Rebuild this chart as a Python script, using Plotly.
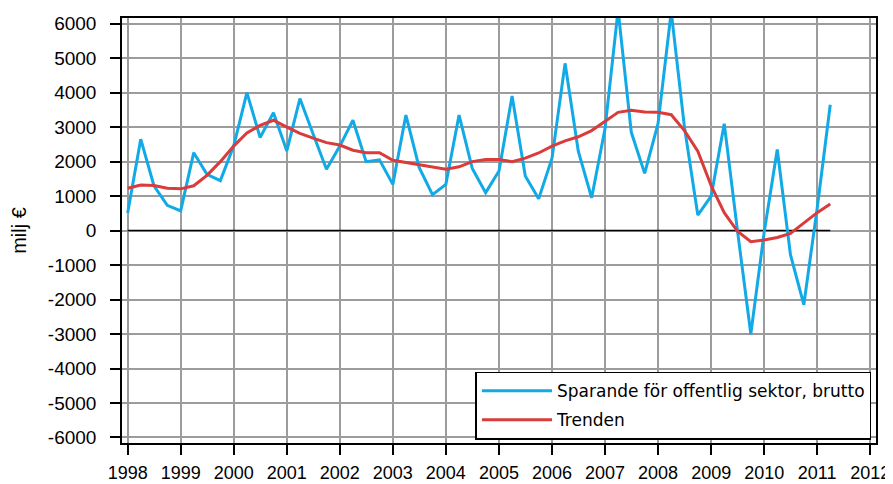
import pandas as pd
import plotly.graph_objects as go

# Quarterly data, 1998Q1 - 2011Q2 (milj €)
quarters = pd.date_range("1998-01-01", "2011-04-01", freq="QS")

sparande = [
    510, 2650, 1300, 730,
    570, 2260, 1630, 1450,
    2450, 4000, 2700, 3420,
    2310, 3830, 2800, 1780,
    2450, 3200, 2000, 2050,
    1340, 3350, 1830, 1040,
    1340, 3350, 1800, 1100,
    1730, 3900, 1580, 920,
    2100, 4850, 2300, 950,
    2950, 6400, 2850, 1660,
    3100, 6350, 3000, 450,
    1000, 3100, 0, -3000,
    -50, 2350, -700, -2150,
    650, 3650,
]

trenden = [
    1230, 1320, 1310, 1230,
    1210, 1300, 1600, 2000,
    2450, 2830, 3050, 3200,
    3000, 2820, 2680, 2550,
    2480, 2330, 2260, 2260,
    2040, 1980, 1910, 1840,
    1780, 1850, 2000, 2060,
    2060, 2000, 2100, 2250,
    2450, 2600, 2720, 2900,
    3180, 3430, 3490, 3440,
    3430, 3360, 2900, 2300,
    1300, 520, -20, -320,
    -270, -200, -80, 230,
    520, 770,
]

y_ticks = list(range(-6000, 6001, 1000))
y_labels = [str(v) for v in y_ticks]

fig = go.Figure()

# zero line over the data period
fig.add_trace(go.Scatter(
    x=[quarters[0], quarters[-1]], y=[0, 0], mode="lines",
    line=dict(color="black", width=1.5), showlegend=False, hoverinfo="skip",
))

fig.add_trace(go.Scatter(
    x=quarters, y=sparande, mode="lines",
    name="Sparande för offentlig sektor, brutto",
    line=dict(color="#12aae6", width=3),
    legendgroup="a",
))

fig.add_trace(go.Scatter(
    x=quarters, y=trenden, mode="lines",
    name="Trenden",
    line=dict(color="#da3b3b", width=3),
    legendgroup="b",
))

# page has an 8px body margin, so the figure is a little smaller than the window
fig.update_layout(
    width=885, height=476,
    margin=dict(l=114, r=17, t=10, b=41),
    paper_bgcolor="white", plot_bgcolor="white",
    font=dict(family="Liberation Sans, Arial, sans-serif", size=19, color="black"),
    legend=dict(
        x=0.994, y=0.008, xanchor="right", yanchor="bottom",
        bgcolor="white", bordercolor="black", borderwidth=1.5,
        font=dict(family="DejaVu Sans", size=17, color="black"),
        itemwidth=70, tracegroupgap=4, traceorder="grouped",
    ),
)

fig.update_xaxes(
    type="date", automargin=False,
    range=["1997-11-23", "2012-02-10"],
    tick0="1998-01-01", dtick="M12", tickformat="%Y",
    tickfont=dict(size=18),
    showgrid=True, gridcolor="#9c9c9c", gridwidth=1.5,
    showline=True, linecolor="black", linewidth=1.5, mirror=True,
    ticks="outside", ticklen=10, tickwidth=1.5, tickcolor="black",
    ticklabelstandoff=3,
)

fig.update_yaxes(
    automargin=False,
    range=[-6160, 6165],
    tickvals=y_ticks, ticktext=y_labels,
    showgrid=True, gridcolor="#9c9c9c", gridwidth=1.5,
    zeroline=False,
    showline=True, linecolor="black", linewidth=1.5, mirror=True,
    ticks="outside", ticklen=10, tickwidth=1.5, tickcolor="black",
    ticklabelstandoff=10,
    title=dict(text="milj €", font=dict(size=20), standoff=16),
)

fig.write_html("out.html")
